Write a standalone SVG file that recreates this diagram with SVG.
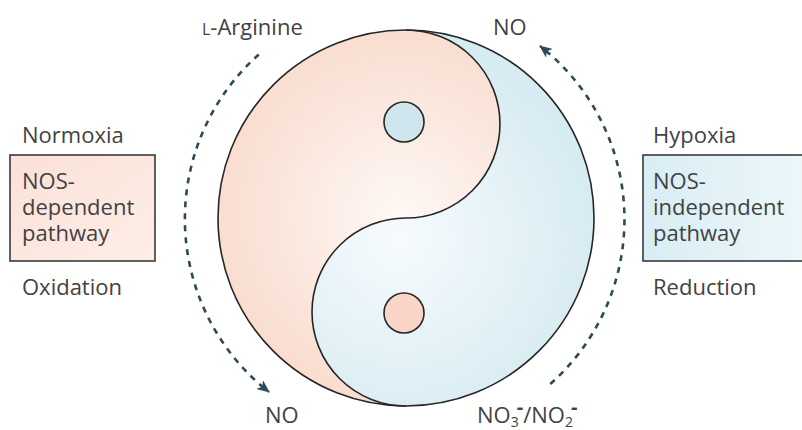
<svg xmlns="http://www.w3.org/2000/svg" width="802" height="430" viewBox="0 0 802 430">
<style>
  text { font-family: "Open Sans", "Liberation Sans", sans-serif; font-size: 22px; fill: #424242; }
  .outline { stroke: #262626; stroke-width: 1.6; }
  .flow { fill: none; stroke: #2f4a57; stroke-width: 2.6; stroke-dasharray: 6 6; }
  .box { stroke: #3a3a3a; stroke-width: 1.6; }
  .sup { font-size: 20px; font-weight: bold; }
  .sub { font-size: 14px; }
</style>
<defs>
  <radialGradient id="gPink" gradientUnits="userSpaceOnUse" cx="400" cy="215" r="190">
    <stop offset="0" stop-color="#fef8f5"/>
    <stop offset="1" stop-color="#f9dccf"/>
  </radialGradient>
  <radialGradient id="gBlue" gradientUnits="userSpaceOnUse" cx="400" cy="240" r="200">
    <stop offset="0" stop-color="#f7fbfd"/>
    <stop offset="1" stop-color="#d6ebf2"/>
  </radialGradient>
  <linearGradient id="gBoxPink" x1="0" y1="0" x2="1" y2="1">
    <stop offset="0" stop-color="#fbe1d6"/>
    <stop offset="1" stop-color="#fdeee8"/>
  </linearGradient>
  <linearGradient id="gBoxBlue" x1="0" y1="0" x2="1" y2="0">
    <stop offset="0" stop-color="#d8edf4"/>
    <stop offset="1" stop-color="#eef7fa"/>
  </linearGradient>
  <marker id="arr" viewBox="0 0 13 11" refX="12" refY="5.5" markerWidth="13" markerHeight="11" markerUnits="userSpaceOnUse" orient="auto">
    <path d="M0,0 L13,5.5 L0,11 L3.5,5.5 Z" fill="#2f4a57"/>
  </marker>
</defs>

<g id="yinyang">
  <circle cx="406" cy="218" r="188" fill="url(#gBlue)"/>
  <path d="M406,30 A188,188 0 0 0 406,406 A94,94 0 0 1 406,218 A94,94 0 0 0 406,30 Z" fill="url(#gPink)"/>
  <path d="M406,406 A94,94 0 0 1 406,218 A94,94 0 0 0 406,30" fill="none" class="outline"/>
  <circle cx="406" cy="218" r="188" fill="none" class="outline"/>
  <circle cx="404" cy="122" r="20" fill="#cfe6ee" class="outline"/>
  <circle cx="404" cy="313" r="20" fill="#f8d5c6" class="outline"/>
</g>

<g id="normoxia">
  <text x="22" y="143">Normoxia</text>
  <rect x="10" y="155" width="145" height="106" fill="url(#gBoxPink)" class="box"/>
  <text x="22" y="189">NOS-<tspan x="22" dy="26">dependent</tspan><tspan x="22" dy="26">pathway</tspan></text>
  <text x="22" y="295">Oxidation</text>
</g>

<g id="hypoxia">
  <text x="653" y="143">Hypoxia</text>
  <rect x="643" y="155" width="170" height="106" fill="url(#gBoxBlue)" class="box"/>
  <text x="653" y="189">NOS-<tspan x="653" dy="26">independent</tspan><tspan x="653" dy="26">pathway</tspan></text>
  <text x="653" y="295">Reduction</text>
</g>

<g id="labels">
  <text x="202" y="35"><tspan font-size="16">L</tspan>-Arginine</text>
  <text x="493" y="35">NO</text>
  <text x="265" y="423">NO</text>
  <text x="477" y="423">NO<tspan class="sub" dy="4">3</tspan><tspan class="sup" dx="-2" dy="-13">-</tspan><tspan dy="9">/NO</tspan><tspan class="sub" dy="4">2</tspan><tspan class="sup" dx="-2" dy="-13">-</tspan></text>
</g>

<g id="connectors">
  <path class="flow" d="M258.8,54.5 A220,220 0 0 0 269,392" marker-end="url(#arr)"/>
  <path class="flow" d="M550.3,384 A220,220 0 0 0 540,46" marker-end="url(#arr)"/>
</g>
</svg>
